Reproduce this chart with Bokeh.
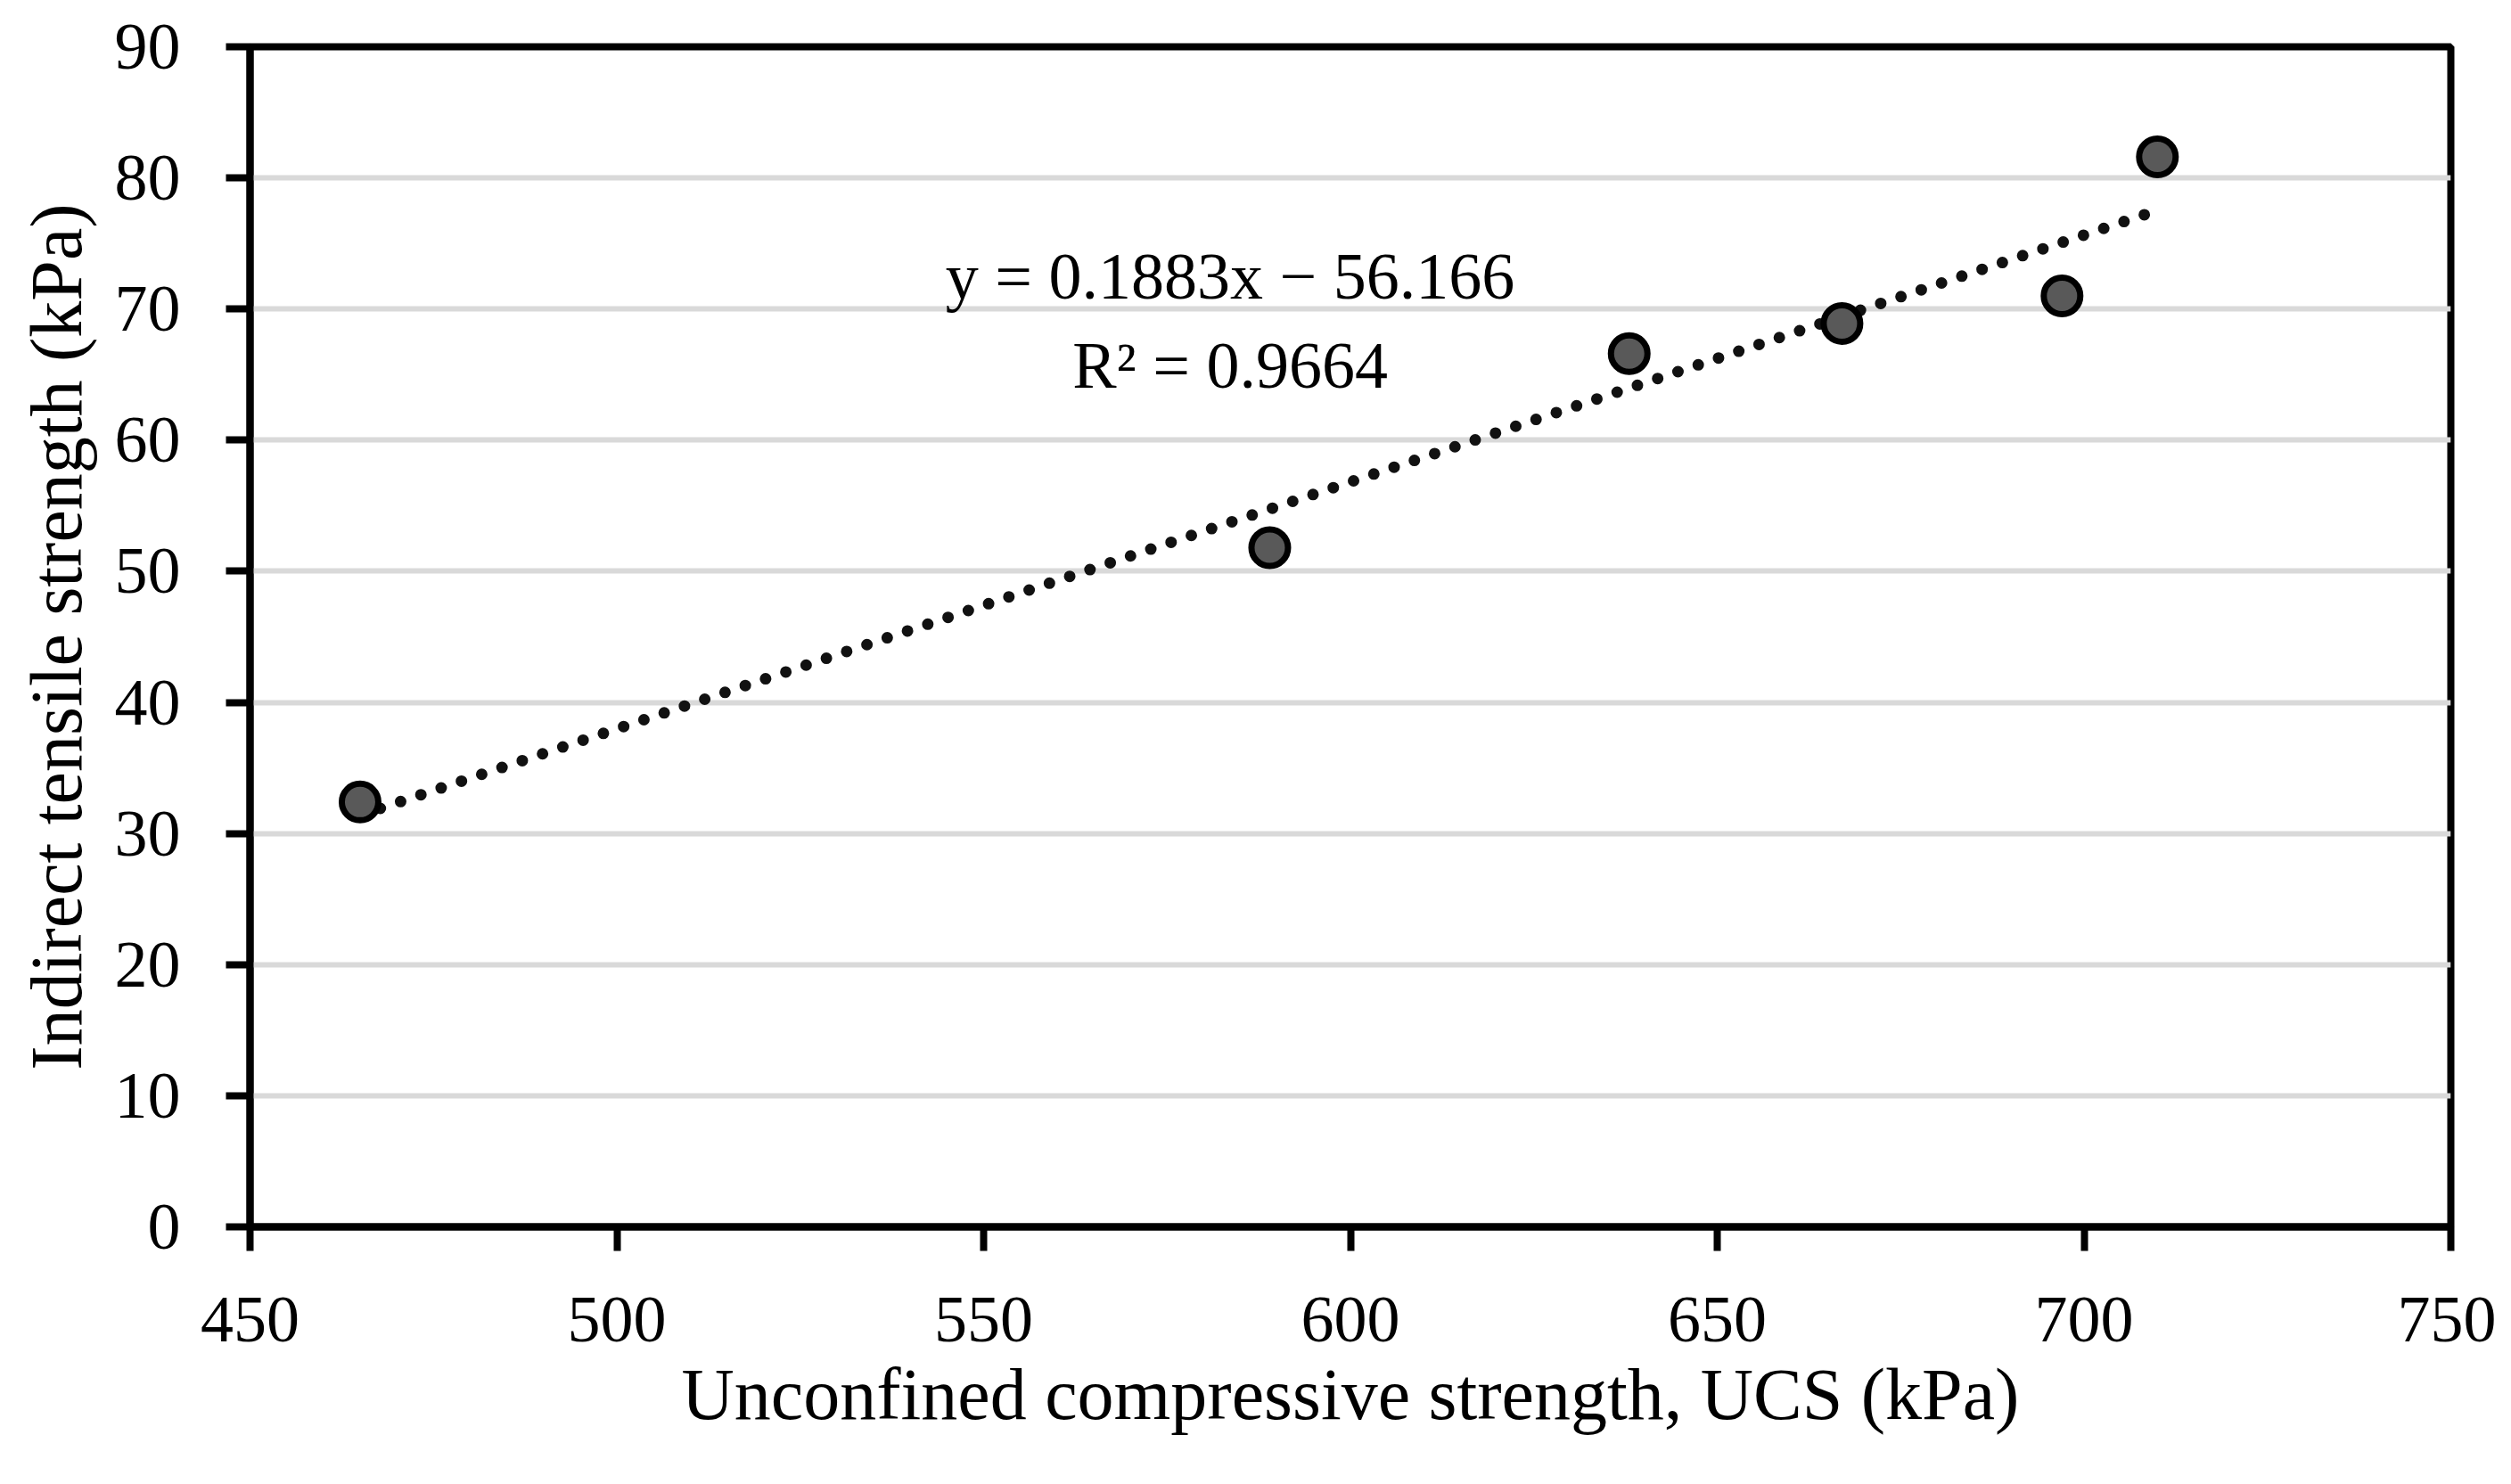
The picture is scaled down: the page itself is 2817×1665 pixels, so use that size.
from bokeh.plotting import figure
from bokeh.models import Range1d, FixedTicker, Label, ColumnDataSource
from bokeh.embed import file_html
from bokeh.resources import INLINE
import numpy as np

ucs = [465, 589, 638, 667, 697, 710]
its = [32.4, 51.8, 66.6, 68.9, 71.0, 81.6]
slope = 0.1883
intercept = -56.166
r2 = 0.9664
x_ticks = [450, 500, 550, 600, 650, 700, 750]
y_ticks = [0, 10, 20, 30, 40, 50, 60, 70, 80, 90]

FONT = "Liberation Serif"
FS = "74px"
TFS = "82px"

p = figure(width=2800, height=1648, output_backend="svg", toolbar_location=None,
           x_range=Range1d(450, 750), y_range=Range1d(0, 90),
           min_border_left=280, min_border_right=51, min_border_top=52, min_border_bottom=272)
p.background_fill_color = "white"
p.border_fill_color = "white"
p.outline_line_color = "black"
p.outline_line_width = 8

p.xgrid.visible = False
p.ygrid.grid_line_color = "#d9d9d9"
p.ygrid.grid_line_width = 6
p.ygrid.ticker = FixedTicker(ticks=y_ticks[1:-1])

for ax in (p.xaxis[0], p.yaxis[0]):
    ax.axis_line_color = "black"
    ax.axis_line_width = 8
    ax.major_tick_line_color = "black"
    ax.major_tick_line_width = 8
    ax.major_tick_in = 0
    ax.major_tick_out = 27
    ax.minor_tick_line_color = None
    ax.major_label_text_font = FONT
    ax.major_label_text_font_size = FS
    ax.major_label_text_color = "black"
    ax.axis_label_text_font = FONT
    ax.axis_label_text_font_size = TFS
    ax.axis_label_text_font_style = "normal"
    ax.axis_label_text_color = "black"

p.xaxis.ticker = FixedTicker(ticks=x_ticks)
p.yaxis.ticker = FixedTicker(ticks=y_ticks)
p.xaxis.major_label_standoff = 52
p.yaxis.major_label_standoff = 51
p.xaxis.axis_label = "Unconfined compressive strength, UCS (kPa)"
p.yaxis.axis_label = "Indirect tensile strength (kPa)"
p.xaxis.axis_label_standoff = 11
p.yaxis.axis_label_standoff = 17

# trend line
tx = np.array([min(ucs), max(ucs)], dtype=float)
ty = slope * tx + intercept
p.line(tx, ty, line_color="#111111", line_width=13, line_dash="0 24", line_cap="round")

src = ColumnDataSource(dict(x=ucs, y=its))
p.scatter("x", "y", source=src, size=41, fill_color="#595959", line_color="black", line_width=7)

p.add_layout(Label(x=583.6, y=72.5, text="y = 0.1883x \u2212 56.166", text_align="center",
                   text_baseline="alphabetic", text_font=FONT, text_font_size=FS, text_color="black"))
p.add_layout(Label(x=583.6, y=65.7, text="R\u00b2 = %.4f" % r2, text_align="center",
                   text_baseline="alphabetic", text_font=FONT, text_font_size=FS, text_color="black"))

open("out.html", "w").write(file_html(p, INLINE))
